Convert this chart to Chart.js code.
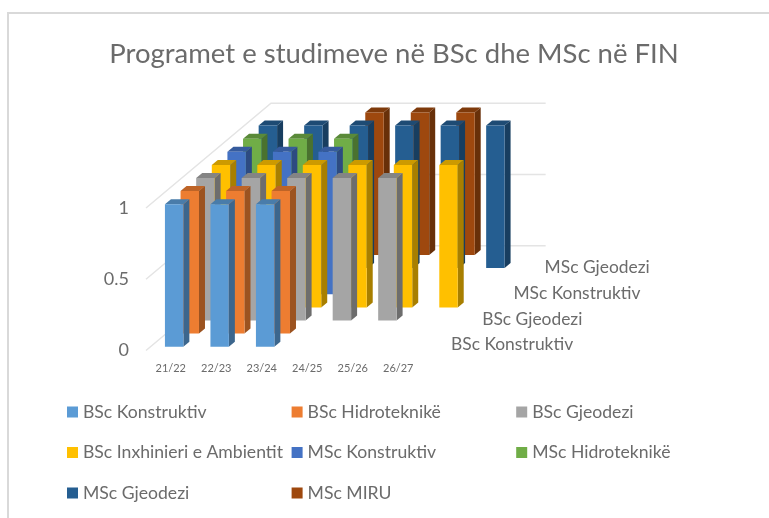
<!DOCTYPE html>
<html><head><meta charset="utf-8">
<style>html,body{margin:0;padding:0;background:#fff}#w{width:769px;height:518px;position:relative}</style>
<script src="https://cdn.jsdelivr.net/npm/chart.js@4"></script></head>
<body><div id="w"><canvas id="c" width="769" height="518"></canvas></div>
<script>
const chartTitle = "Programet e studimeve në BSc dhe MSc në FIN";
const categories = ["21/22","22/23","23/24","24/25","25/26","26/27"];
const bscKonstruktiv = [1,1,1,null,null,null];
const bscHidroteknike = [1,1,1,null,null,null];
const bscGjeodezi = [1,1,1,1,1,null];
const bscAmbient = [1,1,1,1,1,1];
const mscKonstruktiv = [1,1,1,null,null,null];
const mscHidroteknike = [1,1,1,null,null,null];
const mscGjeodezi = [1,1,1,1,1,1];
const mscMiru = [null,null,1,1,1,null];
const seriesNames = ["BSc Konstruktiv","BSc Hidroteknikë","BSc Gjeodezi","BSc Inxhinieri e Ambientit","MSc Konstruktiv","MSc Hidroteknikë","MSc Gjeodezi","MSc MIRU"];
const seriesValues = [bscKonstruktiv,bscHidroteknike,bscGjeodezi,bscAmbient,mscKonstruktiv,mscHidroteknike,mscGjeodezi,mscMiru];
const seriesColors = ["#5B9BD5","#ED7D31","#A5A5A5","#FFC000","#4472C4","#70AD47","#255E91","#9E480E"];
const depthLabels = ["BSc Konstruktiv","BSc Gjeodezi","MSc Konstruktiv","MSc Gjeodezi"];

const FONT = "Lato, Carlito, sans-serif";
const TEXT = "#6b6b6b";
const STEP_X = 15.62, STEP_Y = 13.1;
const BAR_X = 5.4, BAR_Y = 3.8, DEPTH_X = 6, DEPTH_Y = 5;

function shade(hex, f){
  const n = parseInt(hex.slice(1),16);
  const c = [n>>16&255, n>>8&255, n&255].map(v=>Math.round(v*f));
  return `rgb(${c[0]},${c[1]},${c[2]})`;
}
function poly(ctx, pts, fill){
  ctx.beginPath();
  pts.forEach((p,i)=> i?ctx.lineTo(p[0],p[1]):ctx.moveTo(p[0],p[1]));
  ctx.closePath(); ctx.fillStyle = fill; ctx.fill();
}
const scene3d = {
  id:"scene3d",
  beforeDraw(chart){
    const {ctx,width,height} = chart;
    ctx.save();
    ctx.strokeStyle = "#d9d9d9"; ctx.lineWidth = 2;
    ctx.beginPath();
    ctx.moveTo(8,height); ctx.lineTo(8,13); ctx.lineTo(width,13);
    ctx.stroke();
    ctx.restore();
  },
  beforeDatasetsDraw(chart){
    const {ctx,scales:{x,y}} = chart;
    const n = chart.data.datasets.length;
    const dx = n*STEP_X, dy = n*STEP_Y;
    ctx.save();
    ctx.strokeStyle = "#e4e4e4"; ctx.lineWidth = 1.5;
    y.ticks.forEach(t=>{
      const py = y.getPixelForValue(t.value);
      ctx.beginPath();
      ctx.moveTo(x.left,py);
      ctx.lineTo(x.left+dx,py-dy);
      ctx.lineTo(x.right+dx+1.7,py-dy);
      ctx.stroke();
    });
    ctx.restore();
  },
  beforeDatasetDraw(chart,args){
    const {ctx} = chart, i = args.index;
    const color = chart.data.datasets[i].backgroundColor;
    ctx.save();
    ctx.translate(BAR_X+i*STEP_X, -BAR_Y-i*STEP_Y);
    args.meta.data.forEach((bar,k)=>{
      if (chart.data.datasets[i].data[k]==null) return;
      const l = bar.x-bar.width/2, r = bar.x+bar.width/2, t = bar.y, b = bar.base;
      poly(ctx,[[r,t],[r+DEPTH_X,t-DEPTH_Y],[r+DEPTH_X,b-DEPTH_Y],[r,b]],shade(color,0.66));
      poly(ctx,[[l,t],[l+DEPTH_X,t-DEPTH_Y],[r+DEPTH_X,t-DEPTH_Y],[r,t]],shade(color,0.8));
    });
  },
  afterDatasetDraw(chart){ chart.ctx.restore(); },
  afterDraw(chart){
    const {ctx,scales:{x,y}} = chart;
    ctx.save();
    ctx.fillStyle = TEXT; ctx.textAlign = "left"; ctx.textBaseline = "middle";
    ctx.font = "17.4px "+FONT;
    depthLabels.forEach((s,k)=>{
      ctx.fillText(s, x.right+32+k*31.2, y.bottom-6-k*25.6);
    });
    ctx.font = "17.6px "+FONT;
    chart.data.datasets.forEach((d,i)=>{
      const cx = 67+(i%3)*224.6, cy = 412+Math.floor(i/3)*40.5;
      ctx.fillStyle = d.backgroundColor;
      ctx.fillRect(cx,cy-5.5,11,11);
      ctx.fillStyle = TEXT;
      ctx.fillText(d.label,cx+16,cy);
    });
    ctx.restore();
  }
};
new Chart(document.getElementById("c"),{
  type:"bar",
  data:{labels:categories,datasets:seriesNames.map((name,i)=>({
    label:name,data:seriesValues[i],backgroundColor:seriesColors[i],borderWidth:0,clip:false
  }))},
  plugins:[scene3d],
  options:{
    responsive:false,animation:false,
    layout:{padding:{left:19,right:0,top:0,bottom:137.5}},
    datasets:{bar:{grouped:false,barPercentage:0.405,categoryPercentage:1}},
    plugins:{
      legend:{display:false},tooltip:{enabled:false},
      title:{display:true,text:chartTitle,color:TEXT,font:{family:FONT,size:27.5,weight:"normal"},padding:{top:37.5,bottom:137.5}}
    },
    scales:{
      x:{grid:{display:false},border:{display:false},
        ticks:{color:TEXT,font:{family:FONT,size:11},padding:3,labelOffset:2,maxRotation:0,minRotation:0,autoSkip:false},
        afterFit(s){s.height=30;}},
      y:{min:0,max:1,grid:{display:false},border:{display:false},
        ticks:{stepSize:0.5,color:TEXT,font:{family:FONT,size:18},padding:9,callback:v=>String(v)},
        afterFit(s){s.width=127;}},
      spacer:{position:"right",grid:{display:false},border:{display:false},ticks:{display:false},
        afterFit(s){s.width=350;}}
    }
  }
});
</script></body></html>
